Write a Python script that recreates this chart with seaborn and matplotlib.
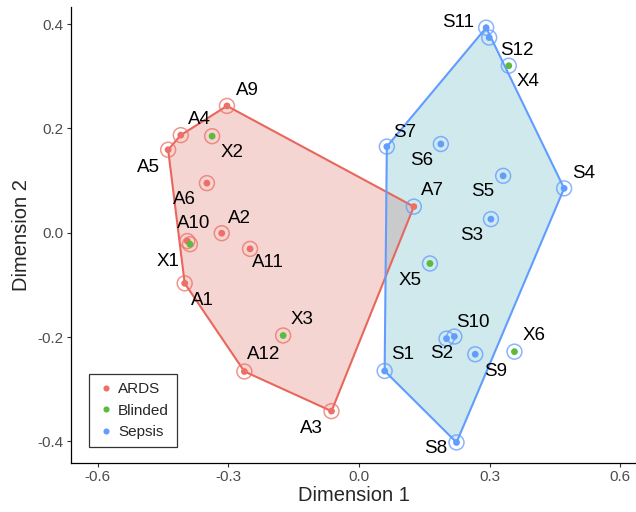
import matplotlib
matplotlib.use("Agg")
import matplotlib.pyplot as plt
import pandas as pd
import seaborn as sns

# data
labels = ["A1", "A2", "A3", "A4", "A5", "A6", "A7", "A9", "A10", "A11", "A12",
          "S1", "S2", "S3", "S4", "S5", "S6", "S7", "S8", "S9", "S10", "S11", "S12",
          "X1", "X2", "X3", "X4", "X5", "X6"]
dim1 = [-0.400, -0.315, -0.063, -0.409, -0.438, -0.349, 0.126, -0.303, -0.394, -0.250, -0.263,
        0.059, 0.201, 0.303, 0.471, 0.331, 0.188, 0.064, 0.224, 0.267, 0.219, 0.292, 0.299,
        -0.388, -0.337, -0.174, 0.344, 0.163, 0.357]
dim2 = [-0.097, -0.001, -0.342, 0.187, 0.159, 0.095, 0.050, 0.243, -0.016, -0.031, -0.266,
        -0.265, -0.203, 0.026, 0.085, 0.109, 0.170, 0.165, -0.402, -0.233, -0.199, 0.393, 0.374,
        -0.022, 0.185, -0.197, 0.320, -0.059, -0.228]
group = ["ARDS"] * 11 + ["Sepsis"] * 12 + ["Blinded"] * 6
predicted = (["ARDS"] * 6 + ["Sepsis"] + ["ARDS"] * 4 + ["Sepsis"] * 12
             + ["ARDS"] * 3 + ["Sepsis"] * 3)

# label offsets in pixels (dx right, dy down)
label_offset = {
    "A1": (18, 17), "A2": (18, -15), "A3": (-20, 17), "A4": (19, -16), "A5": (-20, 18),
    "A6": (-22, 16), "A7": (19, -16), "A9": (20, -15), "A10": (6, -18), "A11": (18, 14),
    "A12": (19, -17), "S1": (18, -16), "S2": (-5, 15), "S3": (-19, 16), "S4": (19, -15),
    "S5": (-20, 16), "S6": (-19, 16), "S7": (18, -14), "S8": (-21, 6), "S9": (20, 17),
    "S10": (19, -14), "S11": (-28, -5), "S12": (28, 13), "X1": (-22, 17), "X2": (20, 16),
    "X3": (19, -16), "X4": (19, 16), "X5": (-20, 17), "X6": (20, -16),
}

palette = {"ARDS": "#EE6F66", "Blinded": "#5CBA3C", "Sepsis": "#619CFF"}
hull_fill = {"ARDS": ("#DE766D", 0.30), "Sepsis": ("#54B0BF", 0.28)}
hull_line = {"ARDS": "#E8675D", "Sepsis": "#619CFF"}

df = pd.DataFrame({"label": labels, "dim1": dim1, "dim2": dim2,
                   "group": group, "predicted": predicted})


def convex_hull(pts):
    pts = sorted(set(pts))
    def cross(o, a, b):
        return (a[0] - o[0]) * (b[1] - o[1]) - (a[1] - o[1]) * (b[0] - o[0])
    lower, upper = [], []
    for p in pts:
        while len(lower) >= 2 and cross(lower[-2], lower[-1], p) <= 0:
            lower.pop()
        lower.append(p)
    for p in reversed(pts):
        while len(upper) >= 2 and cross(upper[-2], upper[-1], p) <= 0:
            upper.pop()
        upper.append(p)
    return lower[:-1] + upper[:-1]


sns.set_style("ticks")
plt.rcParams["font.family"] = ["Liberation Sans", "DejaVu Sans"]

fig = plt.figure(figsize=(6.36, 5.12), dpi=100)
ax = fig.add_axes([71 / 636, 49 / 512, 565 / 636, 456 / 512])

for g in ["ARDS", "Sepsis"]:
    sub = df[df["group"] == g]
    hull = convex_hull(list(zip(sub["dim1"], sub["dim2"])))
    xs = [p[0] for p in hull] + [hull[0][0]]
    ys = [p[1] for p in hull] + [hull[0][1]]
    c, a = hull_fill[g]
    ax.fill(xs, ys, color=c, alpha=a, lw=0, zorder=1)
    ax.plot(xs, ys, color=hull_line[g], lw=1.5, zorder=2)

# rings coloured by predicted class
sns.scatterplot(data=df, x="dim1", y="dim2", hue="predicted", palette=palette,
                s=115, marker="o", linewidth=1.1, alpha=0.75,
                legend=False, ax=ax, zorder=3)
ax.collections[-1].set_facecolor("none")
ax.collections[-1].set_edgecolor([palette[p] for p in df["predicted"]])

# inner points coloured by group
sns.scatterplot(data=df, x="dim1", y="dim2", hue="group",
                hue_order=["ARDS", "Blinded", "Sepsis"], palette=palette,
                s=24, linewidth=0, ax=ax, zorder=4)

for _, r in df.iterrows():
    dx, dy = label_offset[r["label"]]
    ax.annotate(r["label"], (r["dim1"], r["dim2"]), xytext=(dx, -dy),
                textcoords="offset pixels", ha="center", va="center",
                fontsize=13.5, color="black", zorder=5)

ax.set_xlim(-0.661, 0.636)
ax.set_ylim(-0.4414, 0.4326)
ax.set_xticks([-0.6, -0.3, 0.0, 0.3, 0.6])
ax.set_xticklabels(["-0.6", "-0.3", "0.0", "0.3", "0.6"])
ax.set_yticks([-0.4, -0.2, 0.0, 0.2, 0.4])
ax.set_yticklabels(["-0.4", "-0.2", "0.0", "0.2", "0.4"])
ax.tick_params(axis="both", labelsize=11, labelcolor="#4D4D4D", color="#333333",
               length=3.2, width=0.8, pad=2)
ax.set_xlabel("Dimension 1", fontsize=14.5, labelpad=1)
ax.set_ylabel("Dimension 2", fontsize=14.5, labelpad=5)
sns.despine(ax=ax)
for s in ["left", "bottom"]:
    ax.spines[s].set_color("black")
    ax.spines[s].set_linewidth(0.9)

leg = ax.legend(title=None, loc="lower left", bbox_to_anchor=(0.032, 0.035),
                borderaxespad=0, frameon=True, fancybox=False, fontsize=11,
                handletextpad=0.2, labelspacing=0.5, borderpad=0.5,
                handlelength=1.2, markerscale=0.9)
leg.get_frame().set_edgecolor("black")
leg.get_frame().set_linewidth(0.9)

fig.savefig("out.png", dpi=100)
